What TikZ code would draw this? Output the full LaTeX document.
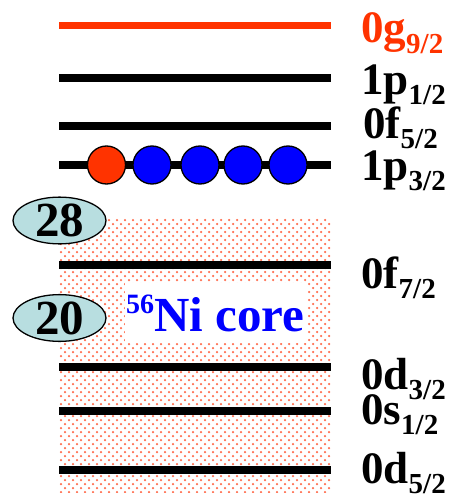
\documentclass[tikz,border=0pt]{standalone}
\usepackage{fontspec}
\setmainfont{Liberation Serif}
\definecolor{lvlred}{RGB}{255,51,0}
\definecolor{dotred}{RGB}{255,110,80}
\definecolor{magicfill}{RGB}{184,222,224}
\definecolor{niblue}{RGB}{0,0,255}
\newcommand{\lvltxt}[2]{\fontsize{45}{45}\selectfont\bfseries #1\raisebox{-10pt}{\fontsize{29}{29}\selectfont #2}}
\tikzset{
  level/.style={line width=7.5pt},
  lvllabel/.style={anchor=base west, inner sep=0pt},
  magic/.style={ellipse, draw=black, line width=1.3pt, fill=magicfill, minimum width=93pt, minimum height=42pt, inner sep=0pt, font=\fontsize{49}{49}\selectfont\bfseries},
  nucleon/.style={circle, draw=black, line width=1.3pt, minimum size=38pt, inner sep=0pt},
}
\usetikzlibrary{shapes.geometric}
\begin{document}
\begin{tikzpicture}[x=1pt,y=-1pt]
\useasboundingbox (0,0) rectangle (457,503);
% dotted core region
\begin{scope}
\clip (59,218) rectangle (331,492);
\foreach \i in {0,...,34}{
  \foreach \j in {0,...,69}{
    \pgfmathsetmacro{\xx}{61+8*\i+4*mod(\j,2)}
    \pgfmathsetmacro{\yy}{220+4*\j}
    \fill[dotred] (\xx,\yy) circle (1.25pt);
  }
}
\end{scope}
% white box behind core label
\fill[white] (125,283) rectangle (307,343);
% levels
\draw[level, lvlred] (59,25.5) -- (331,25.5);
\draw[level] (59,78) -- (331,78);
\draw[level] (59,126) -- (331,126);
\draw[level] (59,165) -- (331,165);
\draw[level] (59,265) -- (331,265);
\draw[level] (59,367) -- (331,367);
\draw[level] (59,411) -- (331,411);
\draw[level] (59,470) -- (331,470);
% labels
\node[lvllabel, text=lvlred] (g92) at (361,43) {\lvltxt{0g}{9/2}};
\node[lvllabel] (p12) at (361,94) {\lvltxt{1p}{1/2}};
\node[lvllabel] (f52) at (363,138) {\lvltxt{0f}{5/2}};
\node[lvllabel] (p32) at (361,180) {\lvltxt{1p}{3/2}};
\node[lvllabel] (f72) at (361,288) {\lvltxt{0f}{7/2}};
\node[lvllabel] (d32) at (361,389) {\lvltxt{0d}{3/2}};
\node[lvllabel] (s12) at (361,424) {\lvltxt{0s}{1/2}};
\node[lvllabel] (d52) at (361,483) {\lvltxt{0d}{5/2}};
% nucleons
\node[nucleon, fill=lvlred] (n1) at (106.5,165) {};
\node[nucleon, fill=niblue] (n2) at (152,165) {};
\node[nucleon, fill=niblue] (n3) at (200,165) {};
\node[nucleon, fill=niblue] (n4) at (243,165) {};
\node[nucleon, fill=niblue] (n5) at (288,165) {};
% magic numbers
\node[magic] (m28) at (59.5,220.5) {28};
\node[magic] (m20) at (59.5,318) {20};
% core label
\node[anchor=base west, inner sep=0pt, text=niblue, font=\bfseries] (core) at (126,331)
  {\raisebox{18pt}{\fontsize{28}{28}\selectfont 56}\fontsize{49}{49}\selectfont Ni core};
\end{tikzpicture}
\end{document}
